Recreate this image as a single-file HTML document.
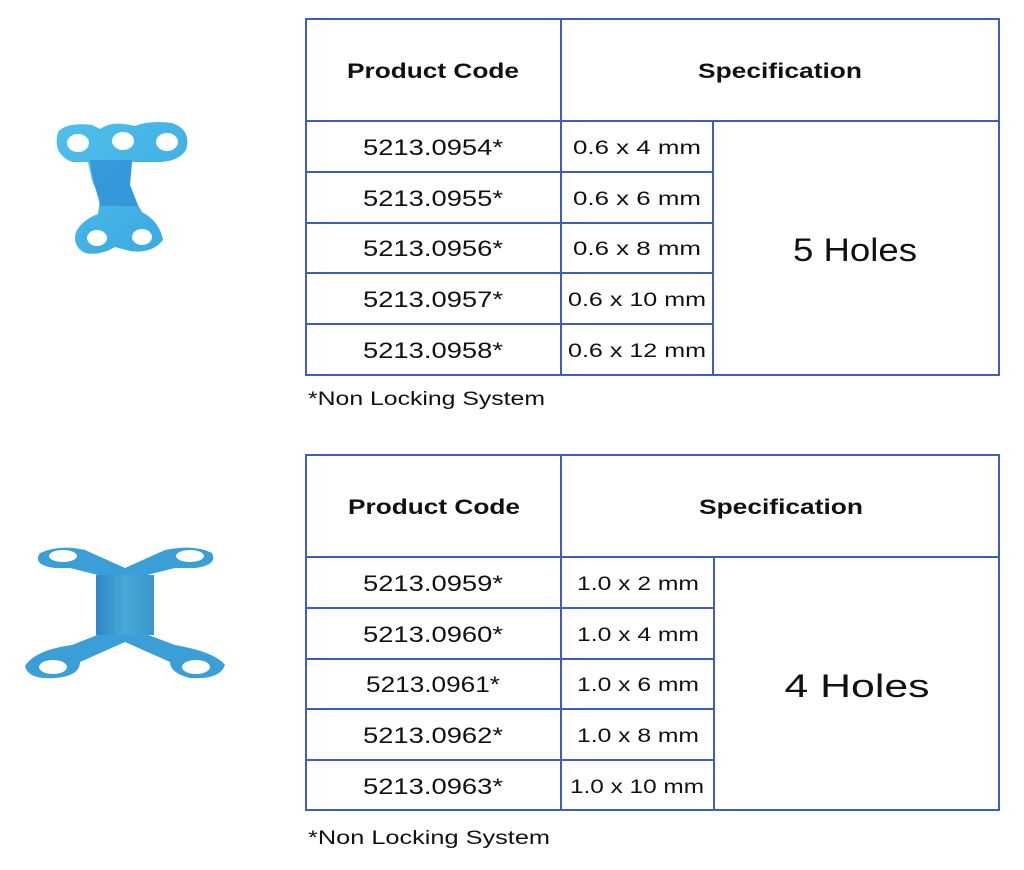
<!DOCTYPE html>
<html><head><meta charset="utf-8"><style>
html,body{margin:0;padding:0;background:#fff;}
svg{display:block}
text{font-family:"Liberation Sans",sans-serif;fill:#111}
</style></head><body>
<svg width="1024" height="870" viewBox="0 0 1024 870" xmlns="http://www.w3.org/2000/svg">
<defs>
<linearGradient id="g1" x1="0" y1="0" x2="1" y2="1"><stop offset="0" stop-color="#4fc0ea"/><stop offset="1" stop-color="#3aa6e0"/></linearGradient>
<linearGradient id="g2" x1="0" y1="0" x2="1" y2="0"><stop offset="0" stop-color="#2f86c8"/><stop offset="0.5" stop-color="#48a9d6"/><stop offset="1" stop-color="#3a95cc"/></linearGradient>
</defs>

<!-- Plate 1 -->
<g>
<path d="M58 132 Q66 122 92 125 L100 129 Q112 120 135 126 Q150 120 172 123 Q192 130 186 150 Q178 162 158 162 L132 162 L130 185 L138 205 L142 212 Q160 222 163 240 Q152 254 130 251 L115 247 Q100 256 85 253 Q72 246 76 232 Q82 220 98 214 L100 200 L92 180 L88 162 L72 162 Q52 154 58 132 Z" fill="url(#g1)"/>
<path d="M90 160 L132 160 L130 185 L138 206 L100 206 L94 182 Z" fill="#2f8fd6" opacity="0.75"/>
<ellipse cx="78" cy="143" rx="11" ry="9" fill="#fff"/>
<ellipse cx="123" cy="141" rx="11" ry="9" fill="#fff"/>
<ellipse cx="167" cy="142" rx="11" ry="9" fill="#fff"/>
<ellipse cx="97" cy="238" rx="10" ry="8" fill="#fff"/>
<ellipse cx="142" cy="237" rx="10" ry="8" fill="#fff"/>
</g>

<!-- Plate 2 -->
<g>
<path d="M40 553 Q60 544 85 550 L125 568 L165 550 Q195 544 212 553 Q218 565 195 568 L175 568 L135 578 L135 630 L175 645 Q215 652 225 665 Q220 680 190 678 Q170 673 170 662 L125 642 L80 662 Q80 676 55 678 Q28 680 25 666 Q35 650 72 645 L110 630 L110 578 L70 568 L55 568 Q32 565 40 553 Z" fill="#3b9ed6"/>
<rect x="96" y="575" width="58" height="60" fill="url(#g2)"/>
<ellipse cx="63" cy="556" rx="14" ry="6" fill="#fff"/>
<ellipse cx="190" cy="556" rx="14" ry="6" fill="#fff"/>
<ellipse cx="53" cy="667" rx="14" ry="7" fill="#fff"/>
<ellipse cx="196" cy="667" rx="14" ry="7" fill="#fff"/>
</g>

<!-- Table 1 -->
<g stroke="#3d5fb6" stroke-width="2" fill="none">
<rect x="306" y="19" width="693" height="356"/>
<line x1="306" y1="121" x2="999" y2="121"/>
<line x1="561" y1="19" x2="561" y2="375"/>
<line x1="713" y1="121" x2="713" y2="375"/>
<line x1="306" y1="172" x2="713" y2="172"/>
<line x1="306" y1="223" x2="713" y2="223"/>
<line x1="306" y1="273" x2="713" y2="273"/>
<line x1="306" y1="324" x2="713" y2="324"/>
</g>
<g text-anchor="middle" lengthAdjust="spacingAndGlyphs">
<text x="433" y="78" font-size="21" font-weight="bold" textLength="172" lengthAdjust="spacingAndGlyphs">Product Code</text>
<text x="780" y="78" font-size="21" font-weight="bold" textLength="164" lengthAdjust="spacingAndGlyphs">Specification</text>
<text x="433" y="155" font-size="22" textLength="140" lengthAdjust="spacingAndGlyphs">5213.0954*</text>
<text x="433" y="206" font-size="22" textLength="140" lengthAdjust="spacingAndGlyphs">5213.0955*</text>
<text x="433" y="256" font-size="22" textLength="140" lengthAdjust="spacingAndGlyphs">5213.0956*</text>
<text x="433" y="307" font-size="22" textLength="140" lengthAdjust="spacingAndGlyphs">5213.0957*</text>
<text x="433" y="358" font-size="22" textLength="140" lengthAdjust="spacingAndGlyphs">5213.0958*</text>
<text x="637" y="154" font-size="19" textLength="128" lengthAdjust="spacingAndGlyphs">0.6 x 4 mm</text>
<text x="637" y="205" font-size="19" textLength="128" lengthAdjust="spacingAndGlyphs">0.6 x 6 mm</text>
<text x="637" y="255" font-size="19" textLength="128" lengthAdjust="spacingAndGlyphs">0.6 x 8 mm</text>
<text x="637" y="306" font-size="19" textLength="138" lengthAdjust="spacingAndGlyphs">0.6 x 10 mm</text>
<text x="637" y="357" font-size="19" textLength="138" lengthAdjust="spacingAndGlyphs">0.6 x 12 mm</text>
<text x="855" y="261" font-size="32" textLength="124" lengthAdjust="spacingAndGlyphs">5 Holes</text>
</g>
<text x="308" y="405" font-size="19" fill="#333" textLength="237" lengthAdjust="spacingAndGlyphs">*Non Locking System</text>

<!-- Table 2 -->
<g stroke="#3d5fb6" stroke-width="2" fill="none">
<rect x="306" y="455" width="693" height="355"/>
<line x1="306" y1="557" x2="999" y2="557"/>
<line x1="561" y1="455" x2="561" y2="810"/>
<line x1="714" y1="557" x2="714" y2="810"/>
<line x1="306" y1="608" x2="714" y2="608"/>
<line x1="306" y1="659" x2="714" y2="659"/>
<line x1="306" y1="709" x2="714" y2="709"/>
<line x1="306" y1="760" x2="714" y2="760"/>
</g>
<g text-anchor="middle">
<text x="434" y="514" font-size="21" font-weight="bold" textLength="172" lengthAdjust="spacingAndGlyphs">Product Code</text>
<text x="781" y="514" font-size="21" font-weight="bold" textLength="164" lengthAdjust="spacingAndGlyphs">Specification</text>
<text x="433" y="591" font-size="22" textLength="140" lengthAdjust="spacingAndGlyphs">5213.0959*</text>
<text x="433" y="642" font-size="22" textLength="140" lengthAdjust="spacingAndGlyphs">5213.0960*</text>
<text x="433" y="692" font-size="22" textLength="134" lengthAdjust="spacingAndGlyphs">5213.0961*</text>
<text x="433" y="743" font-size="22" textLength="140" lengthAdjust="spacingAndGlyphs">5213.0962*</text>
<text x="433" y="794" font-size="22" textLength="140" lengthAdjust="spacingAndGlyphs">5213.0963*</text>
<text x="638" y="590" font-size="19" textLength="122" lengthAdjust="spacingAndGlyphs">1.0 x 2 mm</text>
<text x="638" y="641" font-size="19" textLength="122" lengthAdjust="spacingAndGlyphs">1.0 x 4 mm</text>
<text x="638" y="691" font-size="19" textLength="122" lengthAdjust="spacingAndGlyphs">1.0 x 6 mm</text>
<text x="638" y="742" font-size="19" textLength="122" lengthAdjust="spacingAndGlyphs">1.0 x 8 mm</text>
<text x="637" y="793" font-size="19" textLength="134" lengthAdjust="spacingAndGlyphs">1.0 x 10 mm</text>
<text x="857" y="697" font-size="32" textLength="145" lengthAdjust="spacingAndGlyphs">4 Holes</text>
</g>
<text x="308" y="844" font-size="19" fill="#333" textLength="242" lengthAdjust="spacingAndGlyphs">*Non Locking System</text>
</svg>
</body></html>
